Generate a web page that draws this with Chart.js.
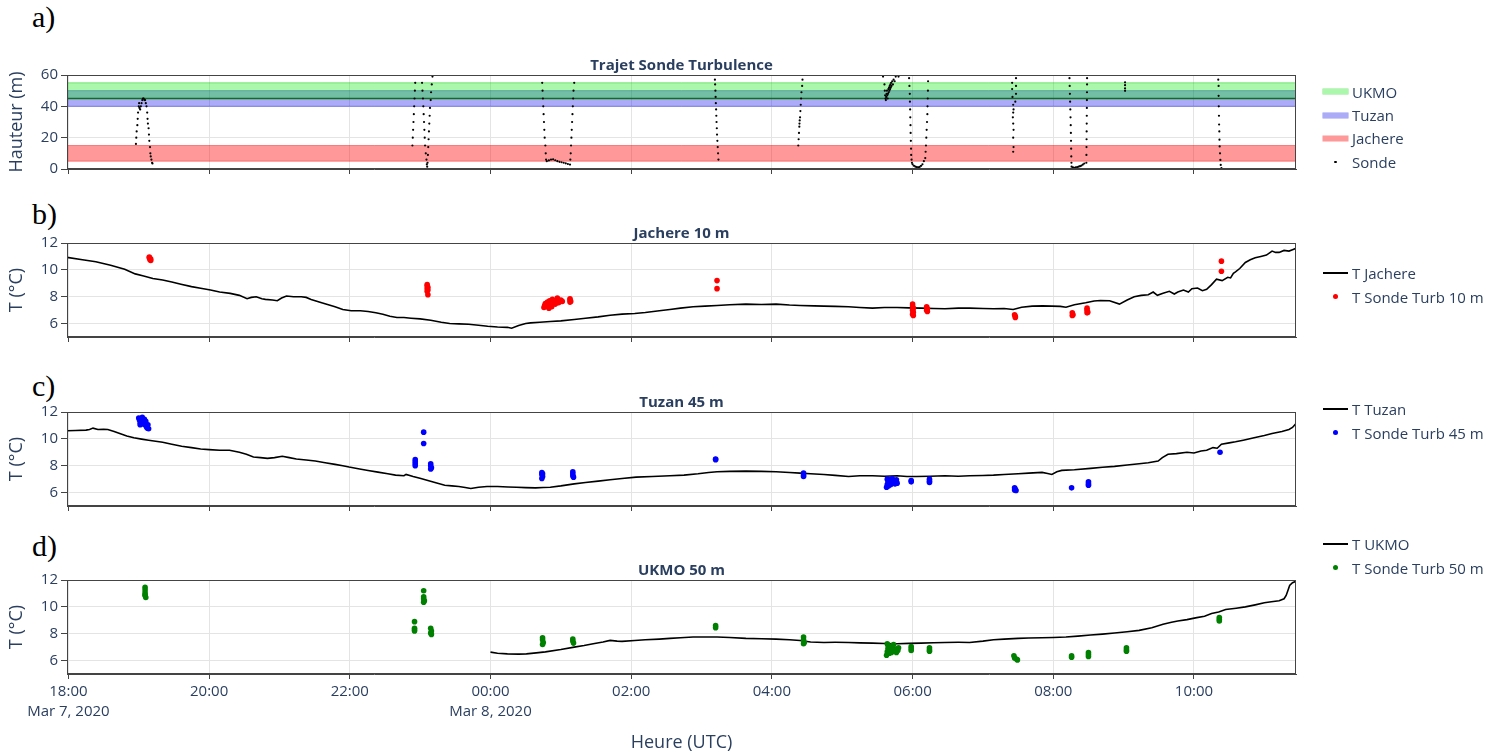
<!DOCTYPE html>
<html>
<head>
<meta charset="utf-8">
<script src="https://cdn.jsdelivr.net/npm/chart.js@4.4.0/dist/chart.umd.min.js"></script>
<style>
  body { margin: 0; background: #fff; }
  #page { position: relative; width: 1509px; height: 755px; overflow: hidden; font-family: "Open Sans", sans-serif; }
  canvas { position: absolute; left: 0; }
  .tag { position: absolute; left: 32px; font-family: "Liberation Serif", serif; font-size: 30px; line-height: 30px; color: #000; }
  .legend { position: absolute; left: 1323px; font-size: 15px; color: #2a3f5f; }
  .legend .item { height: 23.4px; display: flex; align-items: center; white-space: nowrap; }
  .legend .sym { width: 25px; margin-right: 4px; display: flex; align-items: center; justify-content: center; }
</style>
</head>
<body>
<div id="page">
  <div class="tag" style="top:2px">a)</div>
  <div class="tag" style="top:199px">b)</div>
  <div class="tag" style="top:371px">c)</div>
  <div class="tag" style="top:531px">d)</div>

  <canvas id="chartSonde" width="1509" height="136" style="top:45px"></canvas>
  <canvas id="chartJachere" width="1509" height="136" style="top:213px"></canvas>
  <canvas id="chartTuzan" width="1509" height="136" style="top:382px"></canvas>
  <canvas id="chartUkmo" width="1509" height="205" style="top:550px"></canvas>

  <div class="legend" id="legSonde" style="top:80px"></div>
  <div class="legend" id="legJachere" style="top:261.5px"></div>
  <div class="legend" id="legTuzan" style="top:397.5px"></div>
  <div class="legend" id="legUkmo" style="top:532.5px"></div>
</div>

<script>
// temps en heures depuis le 7 mars 2020 00:00 UTC (24 = 8 mars 00:00)
const X_MIN = 17.98;
const X_MAX = 35.45;

// bandes de hauteur des mats
const bandNames = ['UKMO', 'Tuzan', 'Jachere'];
const bandLow = [45, 40, 5];
const bandHigh = [55, 50, 15];

// trajet de la sonde [heure, hauteur m]
const sondePath = [
    [18.96, 16], [18.965, 20], [18.97, 24], [18.98, 28], [18.985, 32], [18.99, 36], [19.0, 40], [19.005, 42],
    [19.01, 39], [19.02, 38], [19.03, 40], [19.04, 42], [19.05, 44], [19.06, 45], [19.07, 45], [19.08, 44],
    [19.09, 44], [19.1, 42], [19.11, 40], [19.12, 36], [19.125, 32], [19.13, 29], [19.14, 26], [19.145, 22],
    [19.15, 18], [19.16, 14], [19.165, 10], [19.17, 8], [19.18, 6], [19.19, 4], [19.195, 3.5],
    [22.89, 15], [22.895, 20], [22.9, 25], [22.905, 30], [22.91, 35], [22.915, 40], [22.92, 45], [22.925, 50],
    [22.93, 55], [22.935, 60],
    [23.02, 60], [23.027, 55], [23.033, 50], [23.04, 45], [23.045, 40], [23.05, 35], [23.055, 30], [23.06, 25],
    [23.065, 20], [23.07, 15], [23.08, 10], [23.09, 6], [23.095, 3], [23.1, 1.5],
    [23.105, 4], [23.11, 9], [23.115, 14], [23.12, 19], [23.125, 24], [23.13, 29], [23.135, 34], [23.14, 39],
    [23.15, 44], [23.155, 49], [23.165, 54], [23.175, 59],
    [24.73, 60], [24.735, 55], [24.74, 50], [24.745, 45], [24.75, 40], [24.755, 35], [24.76, 30], [24.765, 25],
    [24.77, 20], [24.78, 15], [24.785, 10], [24.79, 6], [24.8, 5],
    [24.83, 5.5], [24.86, 6], [24.89, 6.2], [24.92, 5.6], [24.95, 5], [24.98, 4.6], [25.01, 4.3], [25.04, 4],
    [25.07, 3.6], [25.1, 3.2], [25.13, 2.8],
    [25.135, 6], [25.14, 10], [25.145, 15], [25.15, 20], [25.155, 25], [25.16, 30], [25.165, 35], [25.17, 40],
    [25.175, 45], [25.18, 50], [25.19, 55], [25.2, 60],
    [27.19, 57], [27.193, 54], [27.197, 50], [27.2, 46], [27.203, 42], [27.207, 38], [27.21, 34], [27.213, 30],
    [27.217, 26], [27.22, 22], [27.225, 18], [27.23, 14], [27.235, 10], [27.24, 6],
    [28.375, 15], [28.38, 19], [28.385, 23], [28.39, 27], [28.392, 29], [28.395, 31], [28.4, 33], [28.405, 37],
    [28.41, 41], [28.415, 45], [28.42, 49], [28.43, 53], [28.435, 57], [28.44, 60],
    [29.58, 59], [29.6, 54], [29.605, 50], [29.61, 47], [29.615, 45], [29.62, 44], [29.625, 46], [29.63, 48],
    [29.635, 50], [29.64, 47], [29.645, 45], [29.65, 48], [29.655, 51], [29.66, 49], [29.665, 52], [29.67, 50],
    [29.675, 53], [29.68, 51], [29.685, 54], [29.69, 52], [29.695, 55], [29.7, 53], [29.71, 56], [29.72, 54],
    [29.73, 57], [29.745, 56], [29.76, 59], [29.8, 59],
    [29.95, 58], [29.955, 53], [29.96, 48], [29.962, 43], [29.965, 38], [29.967, 33], [29.97, 28], [29.972, 23],
    [29.975, 18], [29.978, 13], [29.98, 9], [29.985, 6], [29.99, 4], [30.0, 3], [30.02, 2], [30.04, 1.5],
    [30.06, 1.2], [30.08, 1], [30.1, 1.3], [30.12, 2], [30.14, 3], [30.16, 5], [30.18, 7], [30.185, 11],
    [30.19, 15], [30.195, 20], [30.2, 25], [30.205, 30], [30.21, 35], [30.212, 40], [30.215, 45], [30.218, 50],
    [30.22, 56],
    [31.41, 60], [31.47, 58], [31.415, 55], [31.47, 53], [31.415, 51], [31.47, 48], [31.42, 46], [31.46, 43],
    [31.43, 41], [31.435, 38], [31.43, 36], [31.425, 33], [31.43, 29], [31.435, 25], [31.43, 20], [31.435, 14],
    [31.43, 11],
    [32.23, 58], [32.233, 53], [32.236, 48], [32.239, 43], [32.242, 38], [32.245, 33], [32.248, 28], [32.25, 23],
    [32.252, 18], [32.254, 13], [32.256, 8], [32.258, 4], [32.26, 1.5],
    [32.28, 1], [32.3, 0.8], [32.32, 1], [32.34, 1.2], [32.36, 1.5], [32.38, 1.8], [32.4, 2.2], [32.42, 2.8],
    [32.44, 3.5],
    [32.47, 4], [32.471, 9], [32.472, 14], [32.473, 19], [32.474, 24], [32.475, 29], [32.476, 34], [32.477, 39],
    [32.478, 44], [32.479, 49], [32.48, 54], [32.48, 58],
    [33.02, 55.3], [33.02, 53.5], [33.02, 51.4], [33.02, 49.9],
    [34.345, 57], [34.35, 53], [34.35, 46.7], [34.352, 40], [34.355, 34], [34.357, 28.4], [34.36, 24],
    [34.362, 18.7], [34.365, 14.4], [34.37, 10], [34.375, 5.8], [34.38, 2.6], [34.39, 0.5]
];

// temperature des mats [heure, T degC]
const tempJachere = [
    [17.98, 10.93], [18.2, 10.75], [18.39, 10.6], [18.6, 10.35], [18.8, 10.05], [18.95, 9.7], [19.07, 9.55],
    [19.2, 9.35], [19.34, 9.25], [19.47, 9.1], [19.6, 8.93], [19.75, 8.75], [19.88, 8.63], [20.02, 8.5],
    [20.15, 8.35], [20.3, 8.25], [20.43, 8.1], [20.54, 7.85], [20.6, 7.95], [20.67, 8.0], [20.75, 7.85],
    [20.8, 7.8], [20.9, 7.75], [20.97, 7.7], [21.03, 7.9], [21.1, 8.05], [21.2, 8.0], [21.31, 8.0],
    [21.38, 7.95], [21.45, 7.8], [21.6, 7.55], [21.79, 7.25], [21.9, 7.05], [22.02, 6.95], [22.15, 6.95],
    [22.26, 6.9], [22.37, 6.8], [22.47, 6.7], [22.57, 6.55], [22.67, 6.45], [22.77, 6.45], [22.87, 6.4],
    [23.0, 6.35], [23.15, 6.25], [23.3, 6.1], [23.42, 6.0], [23.55, 5.98], [23.69, 5.95], [23.83, 5.88],
    [23.96, 5.8], [24.1, 5.75], [24.24, 5.72], [24.3, 5.65], [24.4, 5.85], [24.5, 6.0], [24.57, 6.05],
    [24.7, 6.1], [24.85, 6.15], [25.0, 6.2], [25.19, 6.3], [25.35, 6.4], [25.53, 6.5], [25.7, 6.62],
    [25.87, 6.7], [26.05, 6.75], [26.2, 6.82], [26.4, 6.95], [26.55, 7.05], [26.7, 7.15], [26.88, 7.25],
    [27.05, 7.3], [27.22, 7.35], [27.4, 7.4], [27.63, 7.45], [27.85, 7.42], [28.06, 7.45], [28.25, 7.38],
    [28.4, 7.35], [28.6, 7.32], [28.74, 7.3], [28.9, 7.28], [29.09, 7.25], [29.25, 7.2], [29.43, 7.15],
    [29.6, 7.2], [29.78, 7.2], [29.95, 7.17], [30.12, 7.15], [30.3, 7.12], [30.46, 7.1], [30.65, 7.15],
    [30.81, 7.15], [31.0, 7.12], [31.15, 7.1], [31.3, 7.12], [31.43, 7.05], [31.55, 7.22], [31.7, 7.3],
    [31.85, 7.32], [31.98, 7.3], [32.1, 7.28], [32.18, 7.22], [32.3, 7.4], [32.46, 7.55], [32.58, 7.68],
    [32.67, 7.72], [32.8, 7.7], [32.94, 7.45], [33.05, 7.75], [33.15, 8.0], [33.25, 8.1], [33.35, 8.15],
    [33.42, 8.35], [33.48, 8.1], [33.56, 8.25], [33.65, 8.4], [33.72, 8.2], [33.77, 8.35], [33.85, 8.5],
    [33.92, 8.35], [33.97, 8.6], [34.05, 8.65], [34.12, 8.45], [34.18, 8.55], [34.25, 8.9], [34.32, 9.3],
    [34.4, 9.2], [34.48, 9.45], [34.52, 9.4], [34.56, 9.75], [34.59, 9.85], [34.65, 10.1], [34.73, 10.55],
    [34.8, 10.75], [34.87, 10.9], [34.95, 11.0], [35.03, 11.1], [35.11, 11.4], [35.16, 11.3], [35.21, 11.3],
    [35.28, 11.45], [35.35, 11.4], [35.4, 11.5], [35.45, 11.6]
];

const tempTuzan = [
    [17.98, 10.6], [18.1, 10.62], [18.25, 10.65], [18.3, 10.7], [18.35, 10.8], [18.42, 10.7], [18.5, 10.72],
    [18.56, 10.7], [18.65, 10.55], [18.73, 10.4], [18.83, 10.22], [18.93, 10.08], [19.04, 9.98], [19.14, 9.9],
    [19.24, 9.82], [19.34, 9.75], [19.47, 9.6], [19.61, 9.45], [19.75, 9.35], [19.88, 9.25], [20.0, 9.2],
    [20.15, 9.15], [20.29, 9.15], [20.36, 9.08], [20.43, 9.0], [20.53, 8.85], [20.63, 8.65], [20.73, 8.6],
    [20.83, 8.55], [20.93, 8.6], [21.04, 8.7], [21.14, 8.6], [21.24, 8.5], [21.38, 8.42], [21.51, 8.35],
    [21.65, 8.22], [21.79, 8.1], [21.9, 8.0], [21.99, 7.9], [22.12, 7.78], [22.26, 7.65], [22.4, 7.52],
    [22.54, 7.4], [22.65, 7.3], [22.77, 7.25], [22.8, 7.35], [22.9, 7.2], [23.01, 7.05], [23.11, 6.9],
    [23.21, 6.75], [23.35, 6.55], [23.45, 6.5], [23.55, 6.45], [23.64, 6.38], [23.72, 6.3], [23.83, 6.4],
    [23.95, 6.45], [24.1, 6.45], [24.25, 6.42], [24.37, 6.4], [24.5, 6.37], [24.64, 6.35], [24.75, 6.38],
    [24.85, 6.4], [25.0, 6.5], [25.19, 6.65], [25.35, 6.75], [25.53, 6.85], [25.7, 6.95], [25.87, 7.05],
    [26.07, 7.15], [26.3, 7.2], [26.55, 7.25], [26.75, 7.3], [26.95, 7.4], [27.1, 7.5], [27.22, 7.55],
    [27.4, 7.58], [27.63, 7.6], [27.85, 7.58], [28.06, 7.55], [28.25, 7.5], [28.4, 7.45], [28.55, 7.4],
    [28.74, 7.35], [28.9, 7.28], [29.09, 7.2], [29.25, 7.25], [29.43, 7.25], [29.6, 7.22], [29.78, 7.25],
    [29.92, 7.2], [30.05, 7.2], [30.25, 7.22], [30.46, 7.25], [30.65, 7.22], [30.81, 7.25], [31.0, 7.27],
    [31.15, 7.3], [31.3, 7.35], [31.5, 7.4], [31.65, 7.45], [31.84, 7.5], [31.92, 7.42], [31.98, 7.35],
    [32.05, 7.55], [32.12, 7.65], [32.3, 7.7], [32.53, 7.8], [32.7, 7.88], [32.87, 7.95], [33.05, 8.05],
    [33.22, 8.15], [33.35, 8.22], [33.49, 8.35], [33.55, 8.6], [33.63, 8.85], [33.75, 8.9], [33.9, 9.0],
    [34.0, 8.95], [34.1, 9.1], [34.18, 9.15], [34.27, 9.35], [34.33, 9.3], [34.39, 9.6], [34.5, 9.7],
    [34.59, 9.78], [34.7, 9.9], [34.87, 10.1], [35.0, 10.25], [35.11, 10.4], [35.25, 10.55], [35.35, 10.7],
    [35.4, 10.85], [35.45, 11.15]
];

const tempUkmo = [
    [24.0, 6.63], [24.1, 6.55], [24.24, 6.5], [24.4, 6.48], [24.51, 6.5], [24.65, 6.57], [24.78, 6.65],
    [25.0, 6.82], [25.19, 7.0], [25.33, 7.12], [25.46, 7.25], [25.6, 7.38], [25.7, 7.5], [25.8, 7.45],
    [25.87, 7.43], [26.05, 7.5], [26.2, 7.55], [26.4, 7.6], [26.55, 7.65], [26.7, 7.7], [26.88, 7.75],
    [27.05, 7.76], [27.22, 7.75], [27.4, 7.72], [27.63, 7.65], [27.85, 7.63], [28.06, 7.6], [28.25, 7.55],
    [28.4, 7.5], [28.55, 7.38], [28.74, 7.35], [28.9, 7.36], [29.09, 7.35], [29.25, 7.32], [29.43, 7.3],
    [29.6, 7.27], [29.78, 7.25], [29.95, 7.28], [30.12, 7.3], [30.3, 7.33], [30.46, 7.35], [30.65, 7.36],
    [30.81, 7.35], [31.0, 7.45], [31.15, 7.55], [31.3, 7.6], [31.5, 7.65], [31.65, 7.68], [31.84, 7.7],
    [32.0, 7.72], [32.18, 7.75], [32.35, 7.82], [32.53, 7.9], [32.7, 7.97], [32.87, 8.05], [33.05, 8.15],
    [33.22, 8.25], [33.4, 8.45], [33.56, 8.7], [33.68, 8.85], [33.77, 8.95], [33.9, 9.05], [34.04, 9.2],
    [34.15, 9.3], [34.25, 9.5], [34.35, 9.62], [34.45, 9.8], [34.6, 9.9], [34.73, 10.0], [34.87, 10.15],
    [35.0, 10.3], [35.1, 10.38], [35.21, 10.45], [35.28, 10.6], [35.31, 10.85], [35.34, 11.3], [35.36, 11.6],
    [35.4, 11.8], [35.45, 11.9]
];

// temperature de la sonde au passage de chaque hauteur [heure, T degC]
const sonde10m = [
    [19.15, 10.95], [19.16, 10.85], [19.16, 10.75], [19.17, 10.8], [19.15, 10.9], [19.17, 10.7],
    [23.1, 8.9], [23.1, 8.8], [23.11, 8.7], [23.1, 8.6], [23.11, 8.5], [23.1, 8.4], [23.11, 8.15],
    [24.76, 7.2], [24.77, 7.35], [24.78, 7.5], [24.8, 7.3], [24.81, 7.6], [24.82, 7.45], [24.84, 7.7],
    [24.85, 7.4], [24.86, 7.55], [24.88, 7.8], [24.89, 7.5], [24.9, 7.6], [24.92, 7.45], [24.93, 7.7],
    [24.95, 7.9], [24.96, 7.55], [24.98, 7.6], [25.0, 7.75], [25.02, 7.65], [24.87, 7.25], [24.83, 7.15],
    [25.13, 7.85], [25.13, 7.75], [25.14, 7.65], [25.13, 7.6],
    [27.22, 9.2], [27.22, 8.6],
    [30.0, 7.45], [30.0, 7.3], [30.01, 7.15], [30.0, 7.0], [30.01, 6.85], [30.0, 6.7], [30.01, 6.6],
    [30.2, 7.25], [30.21, 7.1], [30.2, 7.0], [30.21, 6.9],
    [31.45, 6.65], [31.46, 6.55], [31.46, 6.45],
    [32.27, 6.8], [32.28, 6.65], [32.27, 6.6],
    [32.48, 7.15], [32.48, 7.0], [32.49, 6.85], [32.48, 6.8],
    [34.39, 10.65], [34.39, 9.9]
];

const sonde45m = [
    [19.0, 11.55], [19.01, 11.4], [19.02, 11.2], [19.03, 11.5], [19.04, 11.3], [19.05, 11.6], [19.06, 11.35],
    [19.07, 11.1], [19.08, 11.45], [19.09, 11.2], [19.1, 11.0], [19.11, 10.9], [19.12, 10.8], [19.13, 11.05],
    [19.14, 10.75], [19.12, 10.95], [19.02, 11.05], [19.1, 11.3],
    [22.93, 8.45], [22.93, 8.3], [22.93, 8.15], [22.93, 8.0],
    [23.05, 10.5], [23.05, 9.65],
    [23.15, 8.15], [23.15, 8.0], [23.16, 7.85], [23.15, 7.75],
    [24.73, 7.5], [24.73, 7.35], [24.74, 7.2], [24.73, 7.05], [24.74, 7.4],
    [25.17, 7.55], [25.17, 7.4], [25.17, 7.25], [25.18, 7.15],
    [27.2, 8.5], [27.2, 8.45],
    [28.45, 7.45], [28.45, 7.3], [28.45, 7.2],
    [29.63, 6.4], [29.64, 6.6], [29.65, 6.8], [29.64, 7.0], [29.66, 6.5], [29.67, 6.75], [29.68, 6.95],
    [29.69, 6.6], [29.7, 6.85], [29.71, 7.05], [29.72, 6.7], [29.74, 6.9], [29.75, 6.65], [29.76, 6.8],
    [29.78, 6.7], [29.77, 6.95],
    [29.98, 6.9], [29.98, 6.8],
    [30.24, 7.0], [30.24, 6.85], [30.24, 6.75],
    [31.45, 6.35], [31.46, 6.25], [31.47, 6.15], [31.45, 6.2],
    [32.26, 6.35],
    [32.5, 6.8], [32.5, 6.65], [32.5, 6.55],
    [34.37, 9.0]
];

const sonde50m = [
    [19.09, 11.45], [19.09, 11.25], [19.09, 11.05], [19.09, 10.85], [19.1, 10.7], [19.09, 10.9],
    [22.92, 8.9], [22.92, 8.4], [22.92, 8.3], [22.92, 8.2],
    [23.05, 11.2], [23.05, 10.75], [23.05, 10.6], [23.06, 10.45], [23.05, 10.35],
    [23.15, 8.4], [23.16, 8.2], [23.15, 8.05], [23.16, 7.95],
    [24.74, 7.7], [24.74, 7.55], [24.75, 7.35], [24.74, 7.2],
    [25.17, 7.6], [25.17, 7.45], [25.18, 7.3],
    [27.2, 8.6], [27.2, 8.45],
    [28.45, 7.75], [28.45, 7.55], [28.46, 7.35], [28.45, 7.25],
    [29.63, 6.4], [29.64, 6.65], [29.65, 6.9], [29.65, 7.15], [29.67, 6.55], [29.68, 6.8], [29.69, 7.05],
    [29.7, 6.6], [29.72, 6.9], [29.73, 7.2], [29.74, 6.7], [29.76, 6.85], [29.77, 6.6], [29.79, 6.75],
    [29.8, 6.95], [29.64, 7.25],
    [29.98, 7.05], [29.98, 6.9], [29.98, 6.75],
    [30.24, 6.95], [30.24, 6.8], [30.24, 6.7],
    [31.44, 6.35], [31.45, 6.2], [31.48, 6.1], [31.49, 6.05],
    [32.26, 6.35], [32.26, 6.25],
    [32.5, 6.6], [32.5, 6.45], [32.5, 6.3],
    [33.04, 6.95], [33.04, 6.8], [33.04, 6.7],
    [34.36, 9.2], [34.36, 9.05], [34.36, 8.95]
];

// styles
const TXT = '#2a3f5f';
const GRID = '#e4e4e4';
const AXIS = '#444';
const bandFill = ['rgba(0, 230, 0, 0.33)', 'rgba(0, 0, 230, 0.33)', 'rgba(255, 0, 0, 0.4)'];
const bandEdge = ['rgba(0, 200, 0, 0.45)', 'rgba(0, 0, 220, 0.4)', 'rgba(240, 0, 0, 0.4)'];
const bandLowEdge = ['rgba(0, 105, 0, 0.9)', 'rgba(0, 0, 220, 0.4)', 'rgba(240, 0, 0, 0.4)'];

Chart.defaults.font.family = "'Open Sans', sans-serif";
Chart.defaults.color = TXT;

const xy = pairs => pairs.map(p => ({ x: p[0], y: p[1] }));

function hourLabel(v) {
    const h = Math.round(v);
    const txt = String(h % 24).padStart(2, '0') + ':00';
    if (h === 18) return [txt, 'Mar 7, 2020'];
    if (h === 24) return [txt, 'Mar 8, 2020'];
    return txt;
}

// cadre complet autour de la zone de trace
const framePlugin = {
    id: 'frame',
    afterDatasetsDraw(chart) {
        const { ctx, chartArea: a } = chart;
        ctx.save();
        ctx.strokeStyle = AXIS;
        ctx.lineWidth = 1;
        ctx.strokeRect(Math.round(a.left) + 0.5, Math.round(a.top) + 0.5,
            Math.round(a.width) - 1, Math.round(a.height) - 1);
        ctx.restore();
    }
};

function makePanel(canvasId, title, datasets, yOpts, showX) {
    return new Chart(document.getElementById(canvasId), {
        type: 'scatter',
        data: { datasets },
        options: {
            responsive: false,
            animation: false,
            layout: { padding: { left: 0, right: 213, top: 0, bottom: 0 } },
            plugins: {
                legend: { display: false },
                tooltip: { enabled: false },
                title: {
                    display: true,
                    text: title,
                    color: TXT,
                    fullSize: false,
                    font: { size: 15, weight: 'bold' },
                    padding: { top: 12, bottom: 0 }
                }
            },
            scales: {
                x: {
                    type: 'linear',
                    min: X_MIN,
                    max: X_MAX,
                    grid: { color: GRID, tickColor: AXIS, tickLength: 5 },
                    border: { color: AXIS },
                    ticks: {
                        display: showX,
                        stepSize: 2,
                        includeBounds: false,
                        autoSkip: false,
                        maxRotation: 0,
                        color: TXT,
                        padding: 3,
                        font: { size: 15, lineHeight: 1.33 },
                        callback: hourLabel
                    },
                    title: {
                        display: showX,
                        text: 'Heure (UTC)',
                        color: TXT,
                        font: { size: 18 },
                        padding: { top: 0, bottom: 1 }
                    },
                    afterFit(s) { s.height = showX ? 81 : 10; }
                },
                y: {
                    min: yOpts.min,
                    max: yOpts.max,
                    grid: { color: GRID, tickColor: AXIS, tickLength: 6 },
                    border: { color: AXIS },
                    ticks: {
                        stepSize: yOpts.step,
                        includeBounds: false,
                        color: TXT,
                        padding: 3,
                        font: { size: 15 }
                    },
                    title: {
                        display: true,
                        text: yOpts.title,
                        color: TXT,
                        font: { size: 18 },
                        padding: { top: 6, bottom: 0 }
                    },
                    afterFit(s) { s.width = 67; }
                }
            }
        },
        plugins: [framePlugin]
    });
}

function lineSet(label, pairs) {
    return {
        label, data: xy(pairs), showLine: true, borderColor: '#000', borderWidth: 1.6,
        pointRadius: 0, tension: 0
    };
}

function dotSet(label, pairs, color) {
    return {
        label, data: xy(pairs), showLine: false, backgroundColor: color, borderWidth: 0,
        pointRadius: 2.8
    };
}

// a) trajet sonde + bandes
const sondeSets = [{
    label: 'Sonde', data: xy(sondePath), showLine: false, backgroundColor: '#000',
    borderWidth: 0, pointRadius: 1.1
}];
bandNames.forEach((name, i) => {
    sondeSets.push({
        label: name + ' bas',
        data: [{ x: X_MIN, y: bandLow[i] }, { x: X_MAX, y: bandLow[i] }],
        showLine: true, borderColor: bandLowEdge[i], borderWidth: i === 0 ? 1.5 : 1,
        pointRadius: 0, fill: false
    });
    sondeSets.push({
        label: name,
        data: [{ x: X_MIN, y: bandHigh[i] }, { x: X_MAX, y: bandHigh[i] }],
        showLine: true, borderColor: bandEdge[i], borderWidth: 1,
        backgroundColor: bandFill[i], pointRadius: 0, fill: '-1'
    });
});

makePanel('chartSonde', 'Trajet Sonde Turbulence', sondeSets,
    { min: 0, max: 60, step: 20, title: 'Hauteur (m)' }, false);

makePanel('chartJachere', 'Jachere 10 m',
    [dotSet('T Sonde Turb 10 m', sonde10m, '#ff0000'), lineSet('T Jachere', tempJachere)],
    { min: 5, max: 12, step: 2, title: 'T (°C)' }, false);

makePanel('chartTuzan', 'Tuzan 45 m',
    [dotSet('T Sonde Turb 45 m', sonde45m, '#0000ff'), lineSet('T Tuzan', tempTuzan)],
    { min: 5, max: 12, step: 2, title: 'T (°C)' }, false);

makePanel('chartUkmo', 'UKMO 50 m',
    [dotSet('T Sonde Turb 50 m', sonde50m, '#008000'), lineSet('T UKMO', tempUkmo)],
    { min: 5, max: 12, step: 2, title: 'T (°C)' }, true);

// legendes (une par sous-graphe)
function buildLegend(id, items) {
    const box = document.getElementById(id);
    items.forEach(it => {
        const row = document.createElement('div');
        row.className = 'item';
        const sym = document.createElement('span');
        sym.className = 'sym';
        const mark = document.createElement('span');
        if (it.kind === 'band') {
            mark.style.cssText = `width:25px;height:5px;background:${it.fill};box-shadow:0 0 0 0.5px ${it.edge};`;
        } else if (it.kind === 'line') {
            mark.style.cssText = 'width:25px;height:2px;background:#000;';
        } else {
            const d = it.size * 2;
            mark.style.cssText = `width:${d}px;height:${d}px;border-radius:50%;background:${it.color};`;
        }
        sym.appendChild(mark);
        const txt = document.createElement('span');
        txt.textContent = it.label;
        row.appendChild(sym);
        row.appendChild(txt);
        box.appendChild(row);
    });
}

buildLegend('legSonde', bandNames.map((n, i) => ({ kind: 'band', label: n, fill: bandFill[i], edge: bandEdge[i] }))
    .concat([{ kind: 'dot', label: 'Sonde', color: '#000', size: 1.1 }]));
buildLegend('legJachere', [{ kind: 'line', label: 'T Jachere' }, { kind: 'dot', label: 'T Sonde Turb 10 m', color: '#ff0000', size: 2.8 }]);
buildLegend('legTuzan', [{ kind: 'line', label: 'T Tuzan' }, { kind: 'dot', label: 'T Sonde Turb 45 m', color: '#0000ff', size: 2.8 }]);
buildLegend('legUkmo', [{ kind: 'line', label: 'T UKMO' }, { kind: 'dot', label: 'T Sonde Turb 50 m', color: '#008000', size: 2.8 }]);
</script>
</body>
</html>
